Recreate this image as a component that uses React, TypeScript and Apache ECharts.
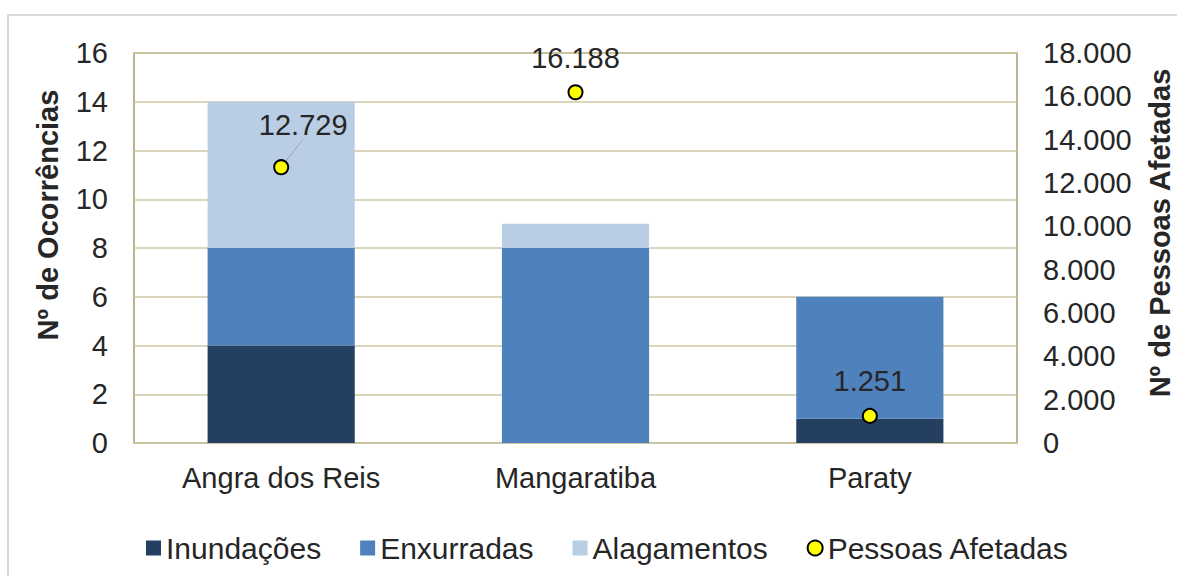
import React, { useEffect, useRef } from "react";
import * as echarts from "echarts";

const categories = ["Angra dos Reis", "Mangaratiba", "Paraty"];
const inundacoes = [4, 0, 1];
const enxurradas = [4, 8, 5];
const alagamentos = [6, 1, 0];
const pessoasAfetadas = [12729, 16188, 1251];
const leftTicks = { min: 0, max: 16, interval: 2 };
const rightTicks = { min: 0, max: 18000, interval: 2000 };

const FONT = "'Liberation Sans', Arial, sans-serif";
const TEXT = "#262626";

function fmt(v: number): string {
  return String(Math.round(v)).replace(/\B(?=(\d{3})+(?!\d))/g, ".");
}

export default function App() {
  const ref = useRef<HTMLDivElement>(null);
  useEffect(() => {
    if (!ref.current) return;
    const chart = echarts.init(ref.current, null, { renderer: "svg" });
    chart.setOption({
      animation: false,
      backgroundColor: "#ffffff",
      textStyle: { fontFamily: FONT },
      graphic: [
        {
          type: "rect",
          shape: { x: 8, y: 15, width: 1300, height: 700 },
          style: { fill: "none", stroke: "#D9D9D9", lineWidth: 2 },
          z: -10,
          silent: true,
        },
        {
          type: "text",
          x: 48,
          y: 215,
          rotation: Math.PI / 2,
          style: {
            text: "Nº de Ocorrências",
            font: `bold 29px ${FONT}`,
            fill: TEXT,
            align: "center",
            verticalAlign: "middle",
          },
        },
        {
          type: "text",
          x: 1160,
          y: 233,
          rotation: Math.PI / 2,
          style: {
            text: "Nº de Pessoas Afetadas",
            font: `bold 29px ${FONT}`,
            fill: TEXT,
            align: "center",
            verticalAlign: "middle",
          },
        },
      ],
      grid: {
        left: 134,
        right: 160,
        top: 53,
        bottom: 133,
        show: true,
        borderColor: "#A39D70",
        borderWidth: 1.5,
        backgroundColor: "transparent",
      },
      legend: {
        left: 141,
        top: 528,
        itemWidth: 15,
        itemHeight: 15,
        itemGap: 39,
        textStyle: { fontSize: 30, color: TEXT, fontFamily: FONT },
        data: [
          { name: "Inundações", icon: "rect" },
          { name: "Enxurradas", icon: "rect" },
          { name: "Alagamentos", icon: "rect" },
          { name: "Pessoas Afetadas", icon: "circle" },
        ],
      },
      xAxis: {
        type: "category",
        data: categories,
        axisLine: { show: false },
        axisTick: { show: false },
        axisLabel: { fontSize: 29, color: TEXT, margin: 20, fontFamily: FONT },
      },
      yAxis: [
        {
          type: "value",
          ...leftTicks,
          axisLine: { show: false },
          axisTick: { show: false },
          axisLabel: { fontSize: 29, color: TEXT, margin: 26, fontFamily: FONT },
          splitLine: { show: true, lineStyle: { color: "#CFC8A5", width: 1.5 } },
        },
        {
          type: "value",
          ...rightTicks,
          position: "right",
          axisLine: { show: false },
          axisTick: { show: false },
          axisLabel: {
            fontSize: 29,
            color: TEXT,
            margin: 26,
            fontFamily: FONT,
            formatter: (v: number) => fmt(v),
          },
          splitLine: { show: false },
        },
      ],
      series: [
        {
          name: "Inundações",
          type: "bar",
          stack: "oc",
          barWidth: "50%",
          data: inundacoes,
          itemStyle: { color: "#243F60" },
        },
        {
          name: "Enxurradas",
          type: "bar",
          stack: "oc",
          barWidth: "50%",
          data: enxurradas,
          itemStyle: { color: "#4F81BD" },
        },
        {
          name: "Alagamentos",
          type: "bar",
          stack: "oc",
          barWidth: "50%",
          data: alagamentos,
          itemStyle: { color: "#B9CDE5" },
        },
        {
          name: "Pessoas Afetadas",
          type: "scatter",
          yAxisIndex: 1,
          symbol: "circle",
          symbolSize: 14,
          itemStyle: { color: "#FFFF00", borderColor: "#000000", borderWidth: 2, opacity: 1 },
          z: 10,
          label: {
            show: true,
            position: "top",
            distance: 12,
            fontSize: 29,
            color: TEXT,
            fontFamily: FONT,
            formatter: (p: any) => fmt(p.value[1] ?? p.value),
          },
          labelLayout: (p: any) => (p.dataIndex === 0 ? { dx: 22, dy: -8 } : {}),
          data: pessoasAfetadas.map((v, i) =>
            i === 0
              ? { value: [categories[i], v], labelLine: { show: true, lineStyle: { color: "#A6A6A6", width: 1 } } }
              : { value: [categories[i], v] }
          ),
        },
      ],
    });
    return () => chart.dispose();
  }, []);
  return (
    <div
      ref={ref}
      style={{ position: "fixed", left: 0, top: 0, width: 1177, height: 576 }}
    />
  );
}
